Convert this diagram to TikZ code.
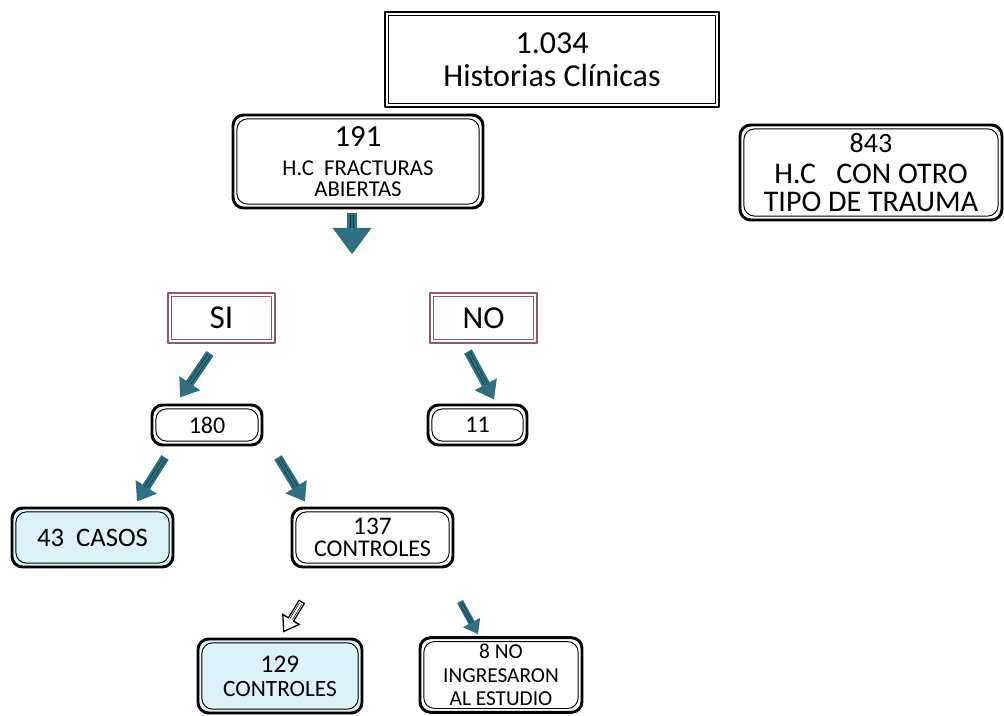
\documentclass[tikz,border=0pt]{standalone}
\usepackage{fontspec}
\setmainfont{Carlito}
\usetikzlibrary{arrows.meta,calc}
\definecolor{arrowteal}{RGB}{44,112,130}
\definecolor{arrowdark}{RGB}{20,45,55}
\definecolor{boxmauve}{RGB}{152,86,106}
\definecolor{boxblue}{RGB}{221,241,248}
\begin{document}
\begin{tikzpicture}[line cap=round,line join=round,x=0.75pt,y=-0.75pt,
  dblbox/.style={draw=#1,line width=2.2pt,align=center,inner sep=0pt,
    path picture={\draw[#1,line width=0.7pt] ([shift={(2.9pt,2.9pt)}]path picture bounding box.south west) rectangle ([shift={(-2.9pt,-2.9pt)}]path picture bounding box.north east);}},
  dblbox/.default=black,
  roundbox/.style={dblbox,rounded corners=8pt},
  bigarrow/.style={draw=arrowteal,line width=7.5pt,line cap=butt,-{Triangle[width=28pt,length=20pt]},
    postaction={draw=arrowdark,line width=0.6pt,double=arrowteal,double distance=2.2pt,shorten <=1.5pt,shorten >=20pt,-}},
  midarrow/.style={draw=arrowteal,line width=6.5pt,line cap=butt,-{Triangle[width=18pt,length=13pt]},
    postaction={draw=arrowdark,line width=0.5pt,double=arrowteal,double distance=1.8pt,shorten <=1.5pt,shorten >=13pt,-}},
  smallarrow/.style={draw=arrowteal,line width=5pt,line cap=butt,-{Triangle[width=14pt,length=10pt]},
    postaction={draw=arrowdark,line width=0.5pt,double=arrowteal,double distance=1.4pt,shorten <=1.5pt,shorten >=10pt,-}},
  openarrow/.style={draw=black,line width=5.5pt,line cap=butt,-{Triangle[width=16pt,length=12pt,open,fill=white,line width=1pt]},
    postaction={draw=white,line width=3.5pt,shorten <=1pt,shorten >=10pt,-},
    postaction={draw=black,line width=0.5pt,double=white,double distance=1.4pt,shorten <=2pt,shorten >=12pt,-}}]
\useasboundingbox (0,0) rectangle (1004,716);
% boxes
\node[dblbox,minimum width=250.5pt,minimum height=71.25pt,font=\fontsize{24}{25}\selectfont] (hc) at (552,59.5) {1.034\\Historias Clínicas};
\node[roundbox,minimum width=187.5pt,minimum height=69.75pt,font=\fontsize{17}{15.5}\selectfont] (fract) at (358,161.5) {{\fontsize{23}{21}\selectfont 191}\\[6.5pt]H.C\ \ FRACTURAS\\ABIERTAS};
\node[roundbox,minimum width=196.5pt,minimum height=71.25pt,font=\fontsize{22.5}{20.5}\selectfont] (otro) at (871,172.5) {{\fontsize{21}{20}\selectfont 843}\\[3pt]H.C\ \ \ CON OTRO\\TIPO DE TRAUMA};
\node[dblbox=boxmauve,minimum width=80.25pt,minimum height=37.5pt,font=\fontsize{25}{24}\selectfont] (si) at (221.5,318) {SI};
\node[dblbox=boxmauve,minimum width=80.25pt,minimum height=37.5pt,font=\fontsize{24}{24}\selectfont] (no) at (483.5,318) {NO};
\node[roundbox,minimum width=82.5pt,minimum height=30pt,font=\fontsize{18}{18}\selectfont] (t180) at (207,425) {180};
\node[roundbox,minimum width=74.25pt,minimum height=30pt,font=\fontsize{18}{18}\selectfont] (t11) at (477.5,425) {11};
\node[roundbox,fill=boxblue,minimum width=120.75pt,minimum height=44.25pt,font=\fontsize{20}{22}\selectfont] (casos) at (92.5,537.5) {43\ \ CASOS};
\node[roundbox,minimum width=120.75pt,minimum height=44.25pt,font=\fontsize{18}{17}\selectfont] (ctrl) at (372.5,537.5) {{\fontsize{19}{17}\selectfont 137}\\CONTROLES};
\node[roundbox,fill=boxblue,minimum width=123pt,minimum height=55.5pt,font=\fontsize{17.5}{18}\selectfont] (final) at (280,676) {{\fontsize{19}{18}\selectfont 129}\\CONTROLES};
\node[roundbox,minimum width=121.5pt,minimum height=56pt,font=\fontsize{16}{17.5}\selectfont] (excl) at (501,675) {8 NO\\INGRESARON\\AL ESTUDIO};
% arrows
\draw[bigarrow] ($(fract.south)+(-6,4)$) -- ($(fract.south)+(-6,45)$);
\draw[midarrow] ($(si.south)+(-11.5,9)$) -- ($(t180.north)+(-27,-6)$);
\draw[midarrow] ($(no.south)+(-15.5,7)$) -- ($(t11.north)+(16.5,-4)$);
\draw[midarrow] ($(t180.south)+(-42,11)$) -- ($(casos.north)+(44.5,-5)$);
\draw[midarrow] ($(t180.south)+(71,11)$) -- ($(ctrl.north)+(-67.5,-5)$);
\draw[openarrow] ($(ctrl.south)+(-70.5,33)$) -- ($(final.north)+(3,-5)$);
\draw[smallarrow] ($(ctrl.south)+(87.5,33)$) -- ($(excl.north)+(-23,-2)$);
\end{tikzpicture}
\end{document}
